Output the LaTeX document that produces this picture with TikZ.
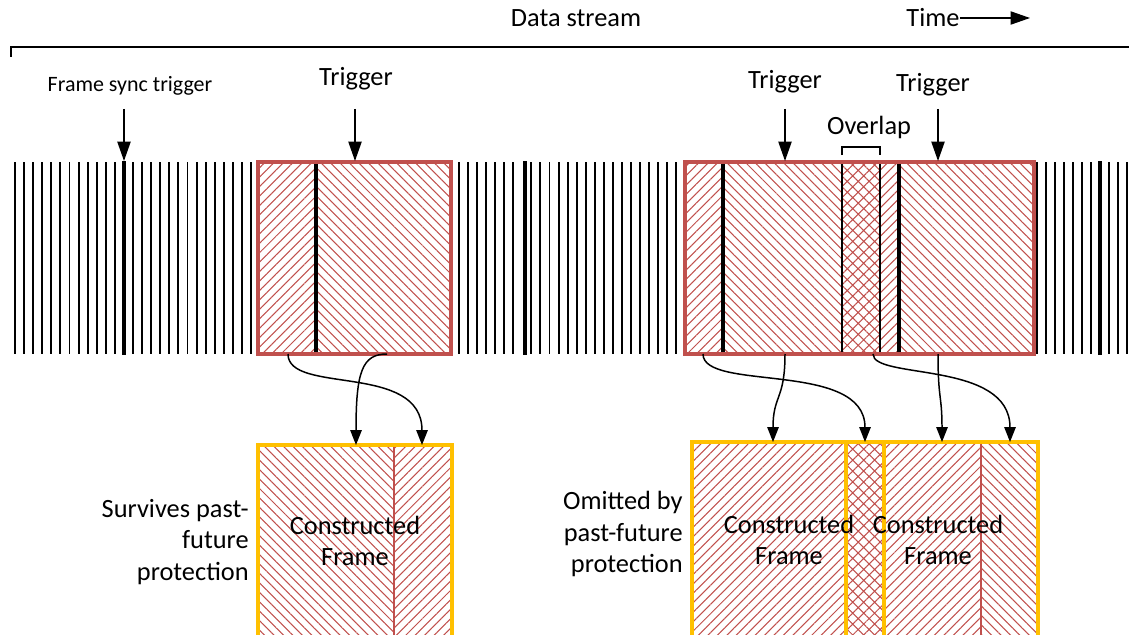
\documentclass[tikz,border=0pt]{standalone}
\usepackage{fontspec}
\setmainfont{Carlito}
\usetikzlibrary{arrows.meta,patterns.meta}
\definecolor{hatchred}{HTML}{C0504D}
\definecolor{frameorange}{HTML}{FFC000}

\begin{document}
\begin{tikzpicture}[x=0.02cm, y=-0.02cm,
  past/.style={pattern={Lines[angle=45,distance=3.8pt,line width=0.6pt]}, pattern color=hatchred},
  futr/.style={pattern={Lines[angle=-45,distance=3.8pt,line width=0.6pt]}, pattern color=hatchred},
  both/.style={pattern={Hatch[angle=45,distance=4.4pt,line width=0.6pt]}, pattern color=hatchred},
  bar/.style={line width=1.1pt}, thickbar/.style={line width=2.1pt},
  rawbox/.style={draw=hatchred, line width=2pt}, cfbox/.style={draw=frameorange, line width=2pt},
  lbl/.style={inner sep=0pt, font=\fontsize{15}{18.1}\selectfont, align=center},
  trg/.style={line width=0.85pt, -{Triangle[length=11pt,width=7.5pt]}},
  arr/.style={line width=0.85pt, -{Triangle[length=8.5pt,width=6.5pt]}}]
\useasboundingbox (0,0) rectangle (1129,635);
\clip (0,0) rectangle (1129,635);
% header
\node[lbl] (stream) at (576,18){Data stream};
\node[lbl] (time) at (933,18){Time};
\coordinate (timeend) at (1030,18);
\draw[trg, line width=0.7pt] (time.east) -- (timeend);
\draw[line width=1.2pt] (11,57) -- (11,47) -- (1129,47);
% data stream
\foreach \i in {0,...,26}{\draw[bar] ({15+9.08*\i},162) -- ({15+9.08*\i},354);}
\foreach \i in {0,...,6,8,9,...,24}{\draw[bar] ({459+9.05*\i},162) -- ({459+9.05*\i},354);}
\foreach \i in {0,...,6,8,9,10}{\draw[bar] ({1037+9.03*\i},162) -- ({1037+9.03*\i},354);}
\foreach \x in {124,525,1100}{\draw[thickbar] (\x,161) -- (\x,355);}
% frames in the stream
\path[past] (258,162) rectangle (316,354);
\path[futr] (316,162) rectangle (451,354);
\draw[thickbar] (316,162) -- (316,354);
\draw[rawbox] (258,162) rectangle (451,354);
\foreach \a/\b/\s in {685/723/past, 723/842/futr, 842/880/both, 880/899/past, 899/1034/futr}{\path[\s] (\a,162) rectangle (\b,354);}
\foreach \x in {723,899}{\draw[thickbar] (\x,162) -- (\x,354);}
\draw[line width=0.8pt] (842,162) rectangle (880,354);
\draw[rawbox] (685,162) rectangle (1034,354);
\draw[line width=0.8pt] (842,155) -- (842,147) -- (880,147) -- (880,155);
\node[lbl] (ovl) at (869,127){Overlap};
% constructed frames
\path[futr] (258,445) rectangle (394,640);
\path[past] (394,445) rectangle (452,640);
\draw[hatchred, line width=1.1pt] (394,445) -- (394,640);
\draw[cfbox] (258,445) rectangle (452,640);
\foreach \a/\b/\s in {692/846/past, 846/884/both, 884/981/past, 981/1038/futr}{\path[\s] (\a,442) rectangle (\b,640);}
\draw[hatchred, line width=1.1pt] (981,442) -- (981,640);
\draw[cfbox] (692,442) rectangle (884,640);
\draw[cfbox] (846,442) rectangle (1038,640);
\node[lbl] (cf1) at (355,541){Constructed\\Frame};
\node[lbl] (cf2) at (789,540){Constructed\\Frame};
\node[lbl] (cf3) at (938,540){Constructed\\Frame};
\node[lbl, align=right, anchor=east] (surv) at (249,542){Survives past-\\future\\protection};
\node[lbl, align=right, anchor=east] (omit) at (683,534){Omitted by\\past-future\\protection};
% triggers
\node[lbl, font=\fontsize{12.5}{14}\selectfont] (fsync) at (130,86){Frame sync trigger};
\node[lbl] (trig1) at (356,79){Trigger};
\node[lbl] (trig2) at (785,82){Trigger};
\node[lbl] (trig3) at (933,85){Trigger};
\foreach \n/\x in {fsync/124, trig1/355, trig2/785, trig3/938}{
  \coordinate (\n tip) at (\x,161);
  \draw[trg] (\x,109) -- (\n tip);}
% frame parts to constructed frames
\foreach \n/\x/\y in {a/288/354, b/387/354, c/703/354, d/785/354, e/873/354, f/938/354}{\coordinate (s\n) at (\x,\y);}
\foreach \n/\x/\y in {a/422/445, b/356/445, c/865/442, d/773/442, e/1010/442, f/942/442}{\coordinate (e\n) at (\x,\y);}
\draw[arr] (sa) .. controls (288,395) and (422,362) .. (ea);
\draw[arr] (sb) .. controls (362,354) and (356,372) .. (eb);
\draw[arr] (sc) .. controls (703,392) and (865,360) .. (ec);
\draw[arr] (sd) .. controls (785,400) and (773,395) .. (ed);
\draw[arr] (se) .. controls (873,380) and (1010,360) .. (ee);
\draw[arr] (sf) .. controls (938,400) and (942,395) .. (ef);
\end{tikzpicture}
\end{document}
